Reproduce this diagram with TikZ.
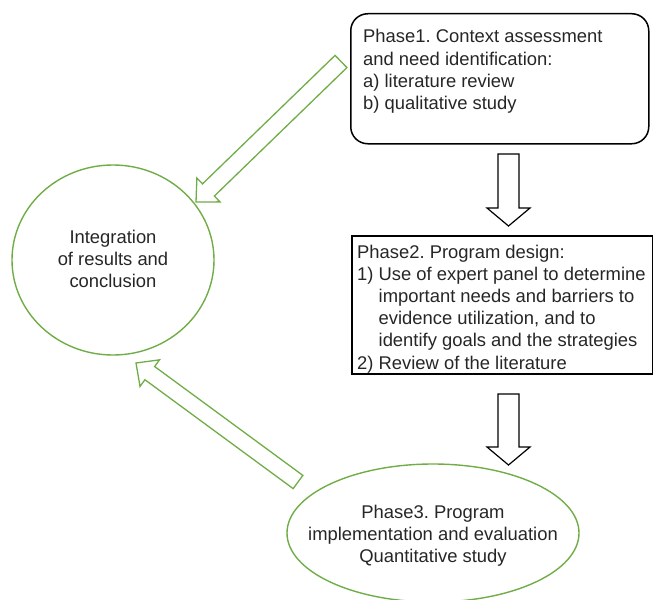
\documentclass[tikz,border=0pt]{standalone}
\usepackage{fontspec}
\setmainfont{Liberation Sans}
\usetikzlibrary{shapes.geometric,calc}
\frenchspacing

\definecolor{leaf}{HTML}{70AD47}
\definecolor{ink}{HTML}{262626}

% hollow block arrow: style, tail centre, tip, shaft half width, head half width, head length
\newcommand{\blockarrow}[6]{%
  \coordinate (ba-h) at ($(#3)!#6!(#2)$);
  \draw[#1] ($(#2)!#4!90:(#3)$) -- ($(ba-h)!#4!90:(#3)$) -- ($(ba-h)!#5!90:(#3)$) -- (#3)
    -- ($(ba-h)!#5!-90:(#3)$) -- ($(ba-h)!#4!-90:(#3)$) -- ($(#2)!#4!-90:(#3)$) -- cycle;}

\tikzset{
  txt/.style={inner sep=0pt, text=ink, font=\fontsize{18.4bp}{22.2bp}\selectfont},
  phasebox/.style={draw=black, line width=1.5bp, inner sep=0pt, anchor=north west},
  greenshape/.style={draw=leaf, line width=1.4bp, inner sep=0pt, ellipse},
  blackarrow/.style={draw=black, line width=1.2bp, fill=white, line join=miter},
  greenarrow/.style={draw=leaf, line width=1.3bp, fill=white, line join=miter},
}

\begin{document}
\begin{tikzpicture}[x=1bp, y=-1bp]
  \useasboundingbox (0,0) rectangle (653,600);

  % Phase 1 box (text placed by the baseline of its last line)
  \node[phasebox, rounded corners=17bp, minimum width=298bp, minimum height=130bp] (p1) at (350,13) {};
  \node[txt, anchor=base west, align=left] (p1t) at (363,109.5)
    {Phase1. Context assessment\\and need identification:\\a) literature review\\b) qualitative study};

  % Phase 2 box
  \node[phasebox, minimum width=301bp, minimum height=138bp] (p2) at (351,235) {};
  \node[txt, anchor=base west, align=left] (p2t) at (357,369)
    {Phase2. Program design:\\
     1) Use of expert panel to determine\\
     \hphantom{1) }important needs and barriers to\\
     \hphantom{1) }evidence utilization, and to\\
     \hphantom{1) }identify goals and the strategies\\
     2) Review of the literature};

  % integration circle
  \node[greenshape, minimum width=202bp, minimum height=190bp] (ic) at (113,260) {};
  \node[txt, anchor=base, align=center] (ict) at (113,287.5)
    {Integration\\of results and\\conclusion};

  % phase 3 ellipse
  \node[greenshape, minimum width=292bp, minimum height=138bp] (p3) at (433,533) {};
  \node[txt, anchor=base, align=center] (p3t) at (433,562.5)
    {Phase3. Program\\implementation and evaluation\\Quantitative study};

  % arrows between phases
  \coordinate (a1s) at (508.5,154);
  \coordinate (a1e) at (508.5,226);
  \coordinate (a2s) at (508.5,394);
  \coordinate (a2e) at (508.5,465);
  \blockarrow{blackarrow}{a1s}{a1e}{10.5bp}{21.5bp}{18bp}
  \blockarrow{blackarrow}{a2s}{a2e}{10.5bp}{21.5bp}{18bp}

  % arrows into the integration circle
  \coordinate (g1s) at (341,61.5);
  \coordinate (g1e) at (196,202);
  \coordinate (g2s) at (298,482);
  \coordinate (g2e) at (136,363);
  \blockarrow{greenarrow}{g1s}{g1e}{8.5bp}{16.6bp}{17.3bp}
  \blockarrow{greenarrow}{g2s}{g2e}{8.2bp}{16.5bp}{17.1bp}
\end{tikzpicture}
\end{document}
